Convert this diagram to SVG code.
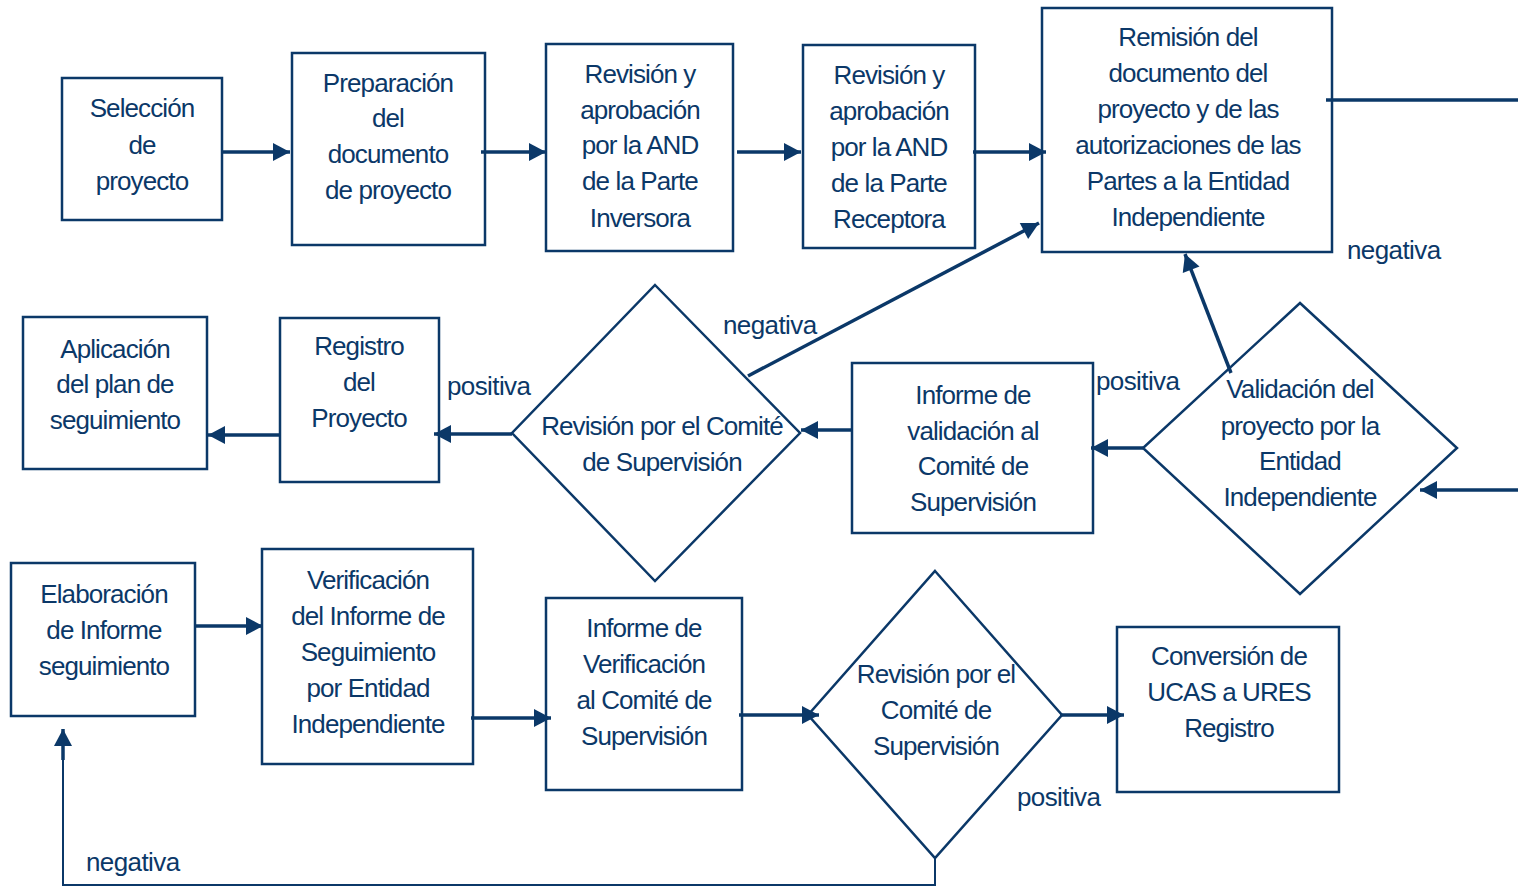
<svg xmlns="http://www.w3.org/2000/svg" width="1518" height="887" viewBox="0 0 1518 887">
<defs>
<style>
.n{fill:#fff;stroke:#0b3868;stroke-width:2.5}
.t{font-family:"Liberation Sans",Arial,sans-serif;font-size:26px;fill:#0b3868;text-anchor:middle;letter-spacing:-0.9px}
.l{font-family:"Liberation Sans",Arial,sans-serif;font-size:26px;fill:#0b3868;letter-spacing:-0.6px}
.c{fill:none;stroke:#0b3868;stroke-width:3.5}
.c2{fill:none;stroke:#0b3868;stroke-width:2}
</style>
<marker id="a" markerUnits="userSpaceOnUse" markerWidth="22" markerHeight="22" viewBox="0 0 22 22" refX="20" refY="11" orient="auto">
<path d="M3,2 L20,11 L3,20 Z" fill="#0b3868"/>
</marker>
</defs>
<rect width="1518" height="887" fill="#fff"/>

<g id="n1"><rect class="n" x="62" y="78" width="160" height="142"/>
<text class="t"><tspan x="142" y="117">Selección</tspan><tspan x="142" y="154">de</tspan><tspan x="142" y="190">proyecto</tspan></text></g>

<g id="n2"><rect class="n" x="292" y="53" width="193" height="192"/>
<text class="t"><tspan x="388" y="92">Preparación</tspan><tspan x="388" y="127">del</tspan><tspan x="388" y="163">documento</tspan><tspan x="388" y="199">de proyecto</tspan></text></g>

<g id="n3"><rect class="n" x="546" y="44" width="187" height="207"/>
<text class="t"><tspan x="640" y="83">Revisión y</tspan><tspan x="640" y="119">aprobación</tspan><tspan x="640" y="154">por la AND</tspan><tspan x="640" y="190">de la Parte</tspan><tspan x="640" y="227">Inversora</tspan></text></g>

<g id="n4"><rect class="n" x="803" y="45" width="172" height="203"/>
<text class="t"><tspan x="889" y="84">Revisión y</tspan><tspan x="889" y="120">aprobación</tspan><tspan x="889" y="156">por la AND</tspan><tspan x="889" y="192">de la Parte</tspan><tspan x="889" y="228">Receptora</tspan></text></g>

<g id="n5"><rect class="n" x="1042" y="8" width="290" height="244"/>
<text class="t"><tspan x="1188" y="46">Remisión del</tspan><tspan x="1188" y="82">documento del</tspan><tspan x="1188" y="118">proyecto y de las</tspan><tspan x="1188" y="154">autorizaciones de las</tspan><tspan x="1188" y="190">Partes a la Entidad</tspan><tspan x="1188" y="226">Independiente</tspan></text></g>

<g id="n6"><rect class="n" x="23" y="317" width="184" height="152"/>
<text class="t"><tspan x="115" y="358">Aplicación</tspan><tspan x="115" y="393">del plan de</tspan><tspan x="115" y="429">seguimiento</tspan></text></g>

<g id="n7"><rect class="n" x="280" y="318" width="159" height="164"/>
<text class="t"><tspan x="359" y="355">Registro</tspan><tspan x="359" y="391">del</tspan><tspan x="359" y="427">Proyecto</tspan></text></g>

<g id="n8"><polygon class="n" points="655,285 800,433 655,581 512,433"/>
<text class="t"><tspan x="662" y="435">Revisión por el Comité</tspan><tspan x="662" y="471">de Supervisión</tspan></text></g>

<g id="n9"><rect class="n" x="852" y="363" width="241" height="170"/>
<text class="t"><tspan x="973" y="404">Informe de</tspan><tspan x="973" y="440">validación al</tspan><tspan x="973" y="475">Comité de</tspan><tspan x="973" y="511">Supervisión</tspan></text></g>

<g id="n10"><polygon class="n" points="1300,303 1457,448 1300,594 1143,448"/>
<text class="t"><tspan x="1300" y="398">Validación del</tspan><tspan x="1300" y="435">proyecto por la</tspan><tspan x="1300" y="470">Entidad</tspan><tspan x="1300" y="506">Independiente</tspan></text></g>

<g id="n11"><rect class="n" x="11" y="563" width="184" height="153"/>
<text class="t"><tspan x="104" y="603">Elaboración</tspan><tspan x="104" y="639">de Informe</tspan><tspan x="104" y="675">seguimiento</tspan></text></g>

<g id="n12"><rect class="n" x="262" y="549" width="211" height="215"/>
<text class="t"><tspan x="368" y="589">Verificación</tspan><tspan x="368" y="625">del Informe de</tspan><tspan x="368" y="661">Seguimiento</tspan><tspan x="368" y="697">por Entidad</tspan><tspan x="368" y="733">Independiente</tspan></text></g>

<g id="n13"><rect class="n" x="546" y="598" width="196" height="192"/>
<text class="t"><tspan x="644" y="637">Informe de</tspan><tspan x="644" y="673">Verificación</tspan><tspan x="644" y="709">al Comité de</tspan><tspan x="644" y="745">Supervisión</tspan></text></g>

<g id="n14"><polygon class="n" points="935,571 1062,715 935,858 808,715"/>
<text class="t"><tspan x="936" y="683">Revisión por el</tspan><tspan x="936" y="719">Comité de</tspan><tspan x="936" y="755">Supervisión</tspan></text></g>

<g id="n15"><rect class="n" x="1117" y="627" width="222" height="165"/>
<text class="t"><tspan x="1229" y="665">Conversión de</tspan><tspan x="1229" y="701">UCAS a URES</tspan><tspan x="1229" y="737">Registro</tspan></text></g>

<g id="connectors">
<path class="c" d="M222,152 H290" marker-end="url(#a)"/>
<path class="c" d="M481,152 H546" marker-end="url(#a)"/>
<path class="c" d="M737,152 H801" marker-end="url(#a)"/>
<path class="c" d="M973,152 H1046" marker-end="url(#a)"/>
<path class="c" d="M1326,100 H1518"/>
<path class="c" d="M1518,490 H1420" marker-end="url(#a)"/>
<path class="c" d="M1143,448 H1091" marker-end="url(#a)"/>
<path class="c" d="M852,430 H801" marker-end="url(#a)"/>
<path class="c" d="M512,434 H434" marker-end="url(#a)"/>
<path class="c" d="M280,435 H208" marker-end="url(#a)"/>
<path class="c" d="M1231,373 L1185,254" marker-end="url(#a)"/>
<path class="c" d="M748,376 L1039,223" marker-end="url(#a)"/>
<path class="c" d="M195,626 H263" marker-end="url(#a)"/>
<path class="c" d="M471,718 H551" marker-end="url(#a)"/>
<path class="c" d="M739,715 H819" marker-end="url(#a)"/>
<path class="c" d="M1060,715 H1124" marker-end="url(#a)"/>
<path class="c2" d="M935,858 V885 H63 V745"/>
<path class="c" d="M63,760 V729" marker-end="url(#a)"/>
<text class="l" x="723" y="334">negativa</text>
<text class="l" x="447" y="395">positiva</text>
<text class="l" x="1096" y="390">positiva</text>
<text class="l" x="1347" y="259">negativa</text>
<text class="l" x="1017" y="806">positiva</text>
<text class="l" x="86" y="871">negativa</text>
</g>
</svg>
